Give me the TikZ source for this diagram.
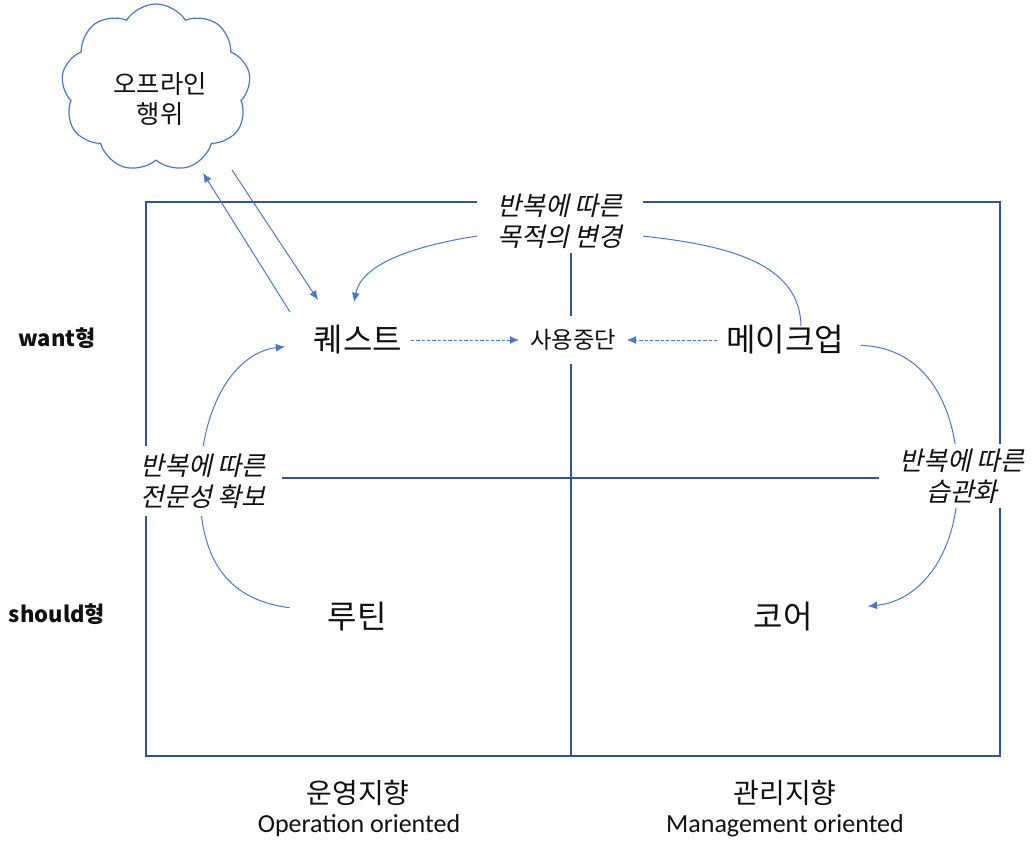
\documentclass[tikz,border=0pt]{standalone}
\usepackage{fontspec}
\usetikzlibrary{arrows.meta,shapes.symbols}
\newfontfamily\kr{Noto Sans CJK KR}
\newfontfamily\krsl[FakeSlant=0.22]{Noto Sans CJK KR}
\newfontfamily\carl{Carlito}
\definecolor{framec}{HTML}{2F5597}
\definecolor{linkc}{HTML}{4A78C8}
\definecolor{txt}{HTML}{111111}
\pgfdeclarelayer{bg}
\pgfsetlayers{bg,main}
\tikzset{
  frameline/.style={draw=framec, line width=1.5pt},
  link/.style={draw=linkc, line width=0.75pt},
  tip/.style={-{Latex[length=7pt,width=6pt]}},
  dashlink/.style={link, line width=0.6pt, dash pattern=on 2.5pt off 1.5pt},
  bigword/.style={text=txt, font={\kr\fontsize{24}{28}\selectfont}},
  midword/.style={text=txt, font={\kr\fontsize{17.5}{20}\selectfont}},
  slanted/.style={text=txt, fill=white, align=center, inner sep=0pt, font={\krsl\fontsize{19.5}{23}\selectfont}},
  sidelabel/.style={text=txt, font={\kr\bfseries\fontsize{16.5}{19}\selectfont}},
  axisko/.style={text=txt, font={\kr\fontsize{21}{25}\selectfont}},
  axisen/.style={text=txt, font={\carl\fontsize{19.5}{23}\selectfont}},
}
\begin{document}
\begin{tikzpicture}[x=0.75pt,y=-0.75pt]
\useasboundingbox (0,0) rectangle (1035,841);

% cloud
\node[cloud, cloud puffs=9, cloud puff arc=115, aspect=1.1, draw=linkc, line width=0.9pt,
      minimum width=142pt, minimum height=126pt] (cl) at (156,88) {};
\node[align=center, text=txt, font={\kr\fontsize{19}{23}\selectfont}] (clt) at (160,99) {오프라인\\행위};

% main words
\node[bigword] (q) at (358,340) {퀘스트};
\node[midword, fill=white, minimum height=36pt, inner xsep=3pt] (stop) at (573,340) {사용중단};
\node[bigword] (m) at (785,340) {메이크업};
\node[bigword] (r) at (357,617) {루틴};
\node[bigword] (c) at (783,617) {코어};

% slanted labels (white fill hides lines behind them)
\node[slanted, minimum width=124pt, minimum height=48pt] (top) at (560,221) {반복에 따른\\목적의 변경};
\node[slanted, minimum width=118pt, minimum height=52pt] (lft) at (203,481) {반복에 따른\\전문성 확보};
\node[slanted, minimum width=124pt, minimum height=48pt] (rgt) at (962,476) {반복에 따른\\습관화};

% side labels
\node[sidelabel] (want) at (57,338) {want형};
\node[sidelabel] (should) at (57,614) {should형};

% axis labels
\node[axisko] (opk) at (358,793) {운영지향};
\node[axisen] (ope) at (359,826) {Operation oriented};
\node[axisko] (mgk) at (785,793) {관리지향};
\node[axisen] (mge) at (785,826) {Management oriented};

% end points of the two cloud links
\coordinate (cA) at (232,170);
\coordinate (qA) at (318,300);
\coordinate (qB) at (290,312);
\coordinate (cB) at (203,173);

\begin{pgfonlayer}{bg}
  % frame
  \draw[frameline] (146,202) rectangle (1000,756);
  \draw[frameline] (571,250) -- (571,756);
  \draw[frameline] (146,478) -- (1000,478);

  % cloud links
  \draw[link, tip] (cA) -- (qA);
  \draw[link, tip] (qB) -- (cB);

  % dashed arrows to stop
  \draw[dashlink, tip, shorten <=3pt, shorten >=5pt] (q.east) -- (stop.west);
  \draw[dashlink, tip, shorten <=3pt, shorten >=5pt] (m.west) -- (stop.east);

  % curved arrows
  \draw[link, tip] ([xshift=12pt,yshift=-4pt]m.north)
      .. controls (800,262) and (725,245) .. (642,236) -- (477,236)
      .. controls (420,245) and (362,262) .. ([xshift=-3pt,yshift=14pt]q.north);
  \draw[link, tip] ([xshift=-25pt,yshift=7pt]r.west)
      .. controls (228,600) and (198,560) .. (200,481)
      .. controls (202,400) and (238,352) .. ([xshift=-18pt,yshift=-5pt]q.west);
  \draw[link, tip] ([xshift=9pt,yshift=-4pt]m.east)
      .. controls (935,348) and (958,420) .. (958,480)
      .. controls (958,548) and (925,600) .. ([xshift=38pt,yshift=8pt]c.east);
\end{pgfonlayer}
\end{tikzpicture}
\end{document}
